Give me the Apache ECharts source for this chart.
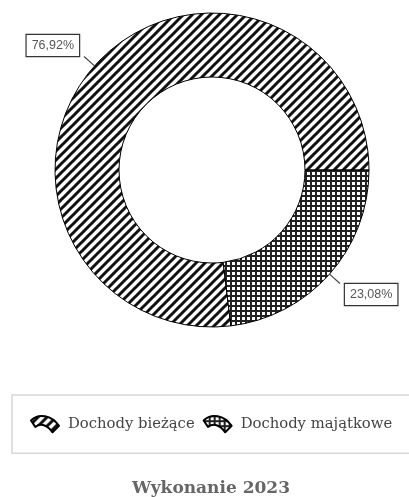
<!DOCTYPE html>
<html>
<head>
<meta charset="utf-8">
<style>
  html, body { margin: 0; padding: 0; background: #fff; }
  #chart { width: 409px; height: 497px; }
</style>
<script src="https://cdn.jsdelivr.net/npm/echarts@6/dist/echarts.min.js"></script>
</head>
<body>
<div id="chart"></div>
<script>
// dane z wykresu
var categories = ['Dochody bieżące', 'Dochody majątkowe'];
var shares = [76.92, 23.08];
var labels = ['76,92%', '23,08%'];
var chartTitle = 'Wykonanie 2023';

// wzór: ukośne paski
function stripePattern() {
    var s = 9;
    var c = document.createElement('canvas');
    c.width = s; c.height = s;
    var ctx = c.getContext('2d');
    ctx.fillStyle = '#fff';
    ctx.fillRect(0, 0, s, s);
    ctx.strokeStyle = '#111';
    ctx.lineWidth = 3;
    ctx.beginPath();
    ctx.moveTo(-1, s + 1); ctx.lineTo(s + 1, -1);
    ctx.moveTo(-3, 3); ctx.lineTo(3, -3);
    ctx.moveTo(s - 3, s + 3); ctx.lineTo(s + 3, s - 3);
    ctx.stroke();
    return c;
}

// wzór: kratka
function gridPattern() {
    var s = 5;
    var c = document.createElement('canvas');
    c.width = s; c.height = s;
    var ctx = c.getContext('2d');
    ctx.fillStyle = '#fff';
    ctx.fillRect(0, 0, s, s);
    ctx.fillStyle = '#222';
    ctx.fillRect(0, 0, s, 2);
    ctx.fillRect(0, 0, 2, s);
    return c;
}

var patterns = [stripePattern(), gridPattern()];
var labelShift = [-11, 11];

var data = [];
for (let i = 0; i < categories.length; i++) {
    data.push({
        name: categories[i],
        value: shares[i],
        label: { formatter: labels[i] },
        itemStyle: {
            color: { image: patterns[i], repeat: 'repeat' }
        }
    });
}

var myChart = echarts.init(document.getElementById('chart'));
var option = {
    animation: false,
    title: {
        text: chartTitle,
        left: 127,
        top: 475,
        textStyle: {
            fontFamily: 'DejaVu Serif',
            fontSize: 17,
            fontWeight: 'bold',
            color: '#666'
        }
    },
    legend: {
        left: 12,
        top: 395,
        width: 420,
        padding: [20, 40, 20, 18],
        borderColor: '#d8d8d8',
        borderWidth: 1.5,
        itemWidth: 28,
        itemHeight: 18,
        itemGap: 8,
        icon: 'path://M1,7 C8,0 20,2 27,12 L21,18 C16,11 10,9 5,13 Z',
        itemStyle: { borderColor: '#000', borderWidth: 2 },
        textStyle: {
            fontFamily: 'DejaVu Serif',
            fontSize: 14.8,
            color: '#444',
            padding: [0, 0, 0, 4]
        },
        data: categories
    },
    series: [
        {
            type: 'pie',
            center: [212, 170],
            radius: [93, 157],
            startAngle: 276.9,
            clockwise: true,
            avoidLabelOverlap: false,
            itemStyle: { borderColor: '#000', borderWidth: 1 },
            label: {
                show: true,
                position: 'outside',
                fontFamily: 'Liberation Sans',
                fontSize: 12.5,
                color: '#555',
                backgroundColor: '#fff',
                borderColor: '#333',
                borderWidth: 1.2,
                padding: [4, 5, 4, 5]
            },
            labelLine: {
                show: true,
                length: 14,
                length2: 0,
                lineStyle: { color: '#444', width: 1.2 }
            },
            labelLayout: function (params) {
                return { dy: labelShift[params.dataIndex] };
            },
            emphasis: { disabled: true },
            data: data
        }
    ]
};
myChart.setOption(option);
</script>
</body>
</html>
